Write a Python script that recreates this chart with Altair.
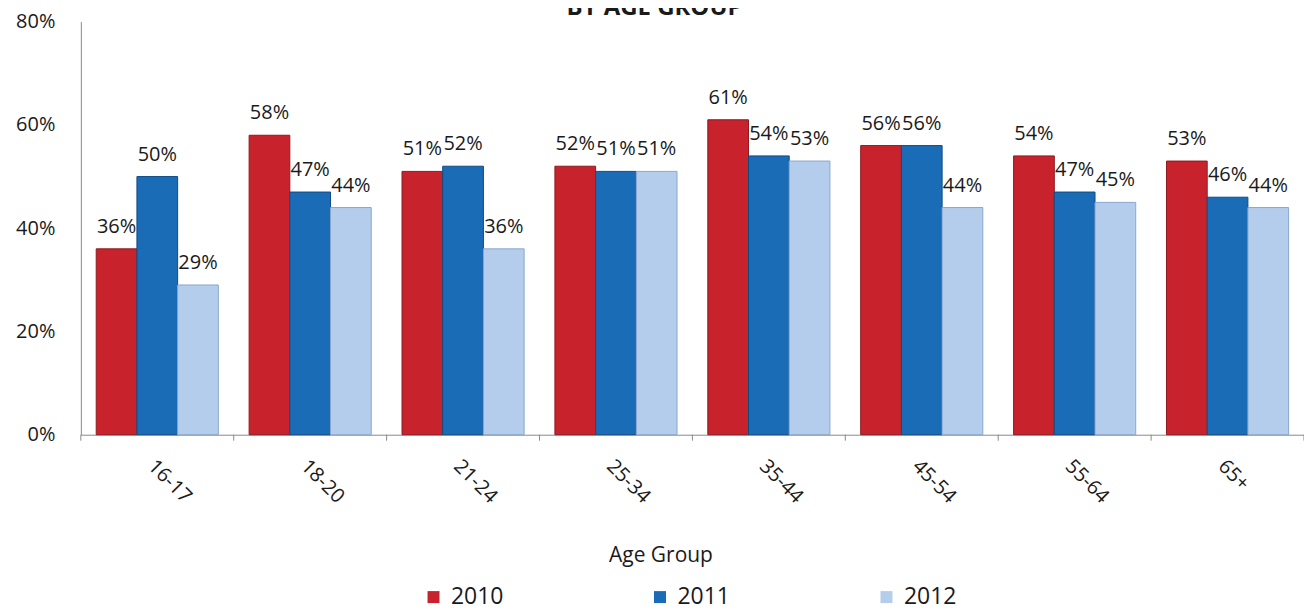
import altair as alt
import pandas as pd

groups = ["16-17", "18-20", "21-24", "25-34", "35-44", "45-54", "55-64", "65+"]
years = ["2010", "2011", "2012"]
v2010 = [36, 58, 51, 52, 61, 56, 54, 53]
v2011 = [50, 47, 52, 51, 54, 56, 47, 46]
v2012 = [29, 44, 36, 51, 53, 44, 45, 44]
y_ticks = [0, 0.2, 0.4, 0.6, 0.8]
fills = ["#c8232c", "#1b6cb7", "#b4cdec"]
strokes = ["#8e1a20", "#0f4b84", "#8aa7cc"]
title_text = "BY AGE GROUP"
x_title = "Age Group"

rows = []
for i, g in enumerate(groups):
    for y, vals in zip(years, [v2010, v2011, v2012]):
        rows.append({"group": g, "year": y, "value": vals[i] / 100, "label": f"{vals[i]}%"})
df = pd.DataFrame(rows)
tick_df = pd.DataFrame({"group": groups})
title_df = pd.DataFrame({"t": [title_text]})

W, H = 1226, 414
FONT = "Open Sans"
TXT = "#1a1a1a"

x_enc = alt.X(
    "group:N", sort=groups,
    scale=alt.Scale(paddingInner=0, paddingOuter=0),
    axis=alt.Axis(
        title=x_title, labelAngle=45, labelAlign="left", labelBaseline="top",
        labelPadding=21, labelOffset=1, ticks=False, domainColor="#8a8a8a",
        labelFontSize=20, labelColor=TXT, labelFont=FONT,
        titleFontSize=21, titleFontWeight="normal", titleColor=TXT, titleFont=FONT,
        titleX=581, titleY=121, titleAlign="center", titleBaseline="middle",
    ),
)
xoff = alt.XOffset("year:N", sort=years, scale=alt.Scale(paddingInner=0, paddingOuter=0.378))
y_enc = alt.Y(
    "value:Q",
    scale=alt.Scale(domain=[0, 0.8], nice=False),
    axis=alt.Axis(
        title=None, format=".0%", values=y_ticks, grid=False, ticks=False,
        labelPadding=26, labelFontSize=20, labelColor=TXT, labelFont=FONT,
        domainColor="#8a8a8a",
    ),
)

bars = alt.Chart(df).mark_bar(strokeWidth=1).encode(
    x=x_enc, xOffset=xoff, y=y_enc,
    color=alt.Color(
        "year:N", sort=years,
        scale=alt.Scale(domain=years, range=fills),
        legend=alt.Legend(
            title=None, orient="none", direction="horizontal", legendX=342, legendY=565,
            symbolType="square", symbolSize=144, symbolStrokeWidth=0,
            labelFontSize=23, labelFont=FONT, labelColor=TXT, labelOffset=6,
            columnPadding=145,
        ),
    ),
    stroke=alt.Stroke("year:N", sort=years, scale=alt.Scale(domain=years, range=strokes), legend=None),
)

labels = alt.Chart(df).mark_text(
    baseline="alphabetic", dy=-16, fontSize=20, font=FONT, color=TXT
).encode(x=x_enc, xOffset=xoff, y=y_enc, text="label:N")

ticks = alt.Chart(tick_df).mark_rule(color="#8a8a8a").encode(
    x=alt.X("group:N", sort=groups, bandPosition=0),
    y=alt.value(H), y2=alt.value(H + 6),
)
end_tick = alt.Chart(tick_df.head(1)).mark_rule(color="#8a8a8a").encode(
    x=alt.value(W), y=alt.value(H), y2=alt.value(H + 6)
)

title = alt.Chart(title_df).mark_text(
    fontSize=24, fontWeight="bold", font=FONT, color=TXT, baseline="alphabetic", align="center"
).encode(text="t:N", x=alt.value(575), y=alt.value(-7))

chart = alt.layer(bars, labels, ticks, end_tick, title).properties(
    width=W, height=H,
    autosize=alt.AutoSizeParams(type="none"),
    padding={"left": 73, "top": 13, "right": 0, "bottom": 178},
).configure(font=FONT, view=alt.ViewConfig(stroke=None))

chart.save("out.html", embed_options={"renderer": "svg", "actions": False})
